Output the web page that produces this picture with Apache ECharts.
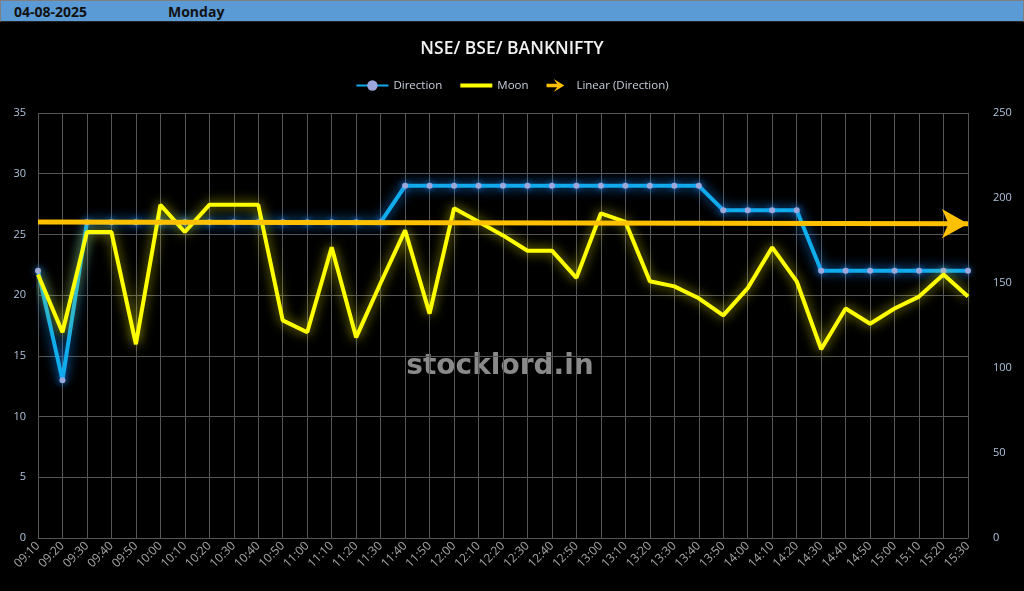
<!DOCTYPE html>
<html>
<head>
<meta charset="utf-8">
<script src="https://cdn.jsdelivr.net/npm/echarts@6/dist/echarts.min.js"></script>
<style>
html,body{margin:0;padding:0;background:#000;}
#hdr{position:absolute;left:0;top:0;width:1022px;height:20px;background:#5B9BD5;border:1px solid #7f7f7f;border-bottom:1px solid #222;font-family:"Open Sans","Noto Sans",sans-serif;font-weight:bold;font-size:14px;color:#111;}
#hdr span{position:absolute;top:1px;}
#chart{position:absolute;left:0;top:22px;width:1024px;height:569px;}
</style>
</head>
<body>
<div id="hdr"><span style="left:13px">04-08-2025</span><span style="left:167px">Monday</span></div>
<div id="chart"></div>
<script>
const categories = ["09:10","09:20","09:30","09:40","09:50","10:00","10:10","10:20","10:30","10:40","10:50","11:00","11:10","11:20","11:30","11:40","11:50","12:00","12:10","12:20","12:30","12:40","12:50","13:00","13:10","13:20","13:30","13:40","13:50","14:00","14:10","14:20","14:30","14:40","14:50","15:00","15:10","15:20","15:30"];
const direction = [22,13,26,26,26,26,26,26,26,26,26,26,26,26,26,29,29,29,29,29,29,29,29,29,29,29,29,29,27,27,27,27,22,22,22,22,22,22,22];
const moon = [155,121,180,180,114,196,180,196,196,196,128,121,171,118,150,181,132,194,186,178,169,169,153,191,186,151,148,141,131,147,171,151,111,135,126,135,142,155,142];
const trendEnds = [26.02, 25.88];
const leftTicks = [0,5,10,15,20,25,30,35];
const rightTicks = [0,50,100,150,200,250];

const chart = echarts.init(document.getElementById('chart'));
const labelColor = '#B0C2DC';
const gridColor = '#555555';
const last = categories.length - 1;
chart.setOption({
  backgroundColor: '#000',
  animation: false,
  textStyle: {fontFamily: '"Open Sans","Noto Sans",sans-serif'},
  title: {
    text: 'NSE/ BSE/ BANKNIFTY', left: 'center', top: 13,
    textStyle: {color: '#F2F2F2', fontSize: 17.5, fontWeight: 600, fontFamily: '"Open Sans","Noto Sans",sans-serif'}
  },
  legend: {
    top: 52, left: 'center', itemWidth: 32, itemHeight: 13, itemGap: 18,
    textStyle: {color: '#C8D0DC', fontSize: 11.5},
    data: [
      {name: 'Direction'},
      {name: 'Moon', icon: 'path://M0,0 L32,0 L32,4 L0,4 Z', itemStyle: {color: '#FFFF00'}},
      {name: 'Linear (Direction)', icon: 'path://M0,8 L18,8 L12,0 L30,11 L12,22 L18,14 L0,14 Z', itemStyle: {color: '#FFC000'}}
    ]
  },
  graphic: [{
    type: 'text', x: 500, y: 331,
    style: {text: 'stocklord.in', fill: '#8a8a8a', textAlign: 'center', font: 'bold 28px "DejaVu Sans", Verdana, sans-serif'}
  }],
  grid: {left: 38, right: 56, top: 91, bottom: 53, containLabel: false},
  xAxis: {
    type: 'category', data: categories, boundaryGap: false,
    axisLine: {show: true, lineStyle: {color: gridColor}},
    axisTick: {show: false},
    axisLabel: {color: '#A6A6A6', fontSize: 12, rotate: 45, interval: 0, margin: 6},
    splitLine: {show: true, interval: 0, lineStyle: {color: gridColor, width: 1}}
  },
  yAxis: [{
    type: 'value', min: leftTicks[0], max: leftTicks[leftTicks.length-1], interval: 5,
    axisLine: {show: false}, axisTick: {show: false},
    axisLabel: {color: labelColor, fontSize: 11, margin: 12},
    splitLine: {lineStyle: {color: gridColor, width: 1}}
  }, {
    type: 'value', min: rightTicks[0], max: rightTicks[rightTicks.length-1], interval: 50,
    axisLine: {show: false}, axisTick: {show: false},
    axisLabel: {color: labelColor, fontSize: 11, margin: 25},
    splitLine: {show: false}
  }],
  series: [{
    name: 'Moon', type: 'line', yAxisIndex: 1, data: moon, symbol: 'none', z: 3,
    lineStyle: {color: '#FFFF00', width: 4, shadowBlur: 12, shadowColor: 'rgba(255,255,0,0.7)'},
    itemStyle: {color: '#FFFF00'}
  }, {
    name: 'Direction', type: 'line', yAxisIndex: 0, data: direction, z: 2,
    symbol: 'circle', symbolSize: 6, showSymbol: true,
    lineStyle: {color: '#10ACEC', width: 4, shadowBlur: 12, shadowColor: 'rgba(20,140,255,0.9)'},
    itemStyle: {color: '#9CA8DC', borderWidth: 0, shadowBlur: 6, shadowColor: 'rgba(40,140,255,0.9)'}
  }, {
    name: 'Linear (Direction)', type: 'line', yAxisIndex: 0, data: [], z: 4,
    itemStyle: {color: '#FFC000'},
    lineStyle: {color: '#FFC000', width: 5},
    markLine: {
      silent: true, symbol: ['none', 'arrow'], symbolSize: [22, 26],
      label: {show: false},
      lineStyle: {color: '#FFC000', width: 5, type: 'solid'},
      data: [[{coord: [0, trendEnds[0]]}, {coord: [last, trendEnds[1]]}]]
    }
  }]
});
</script>
</body>
</html>
